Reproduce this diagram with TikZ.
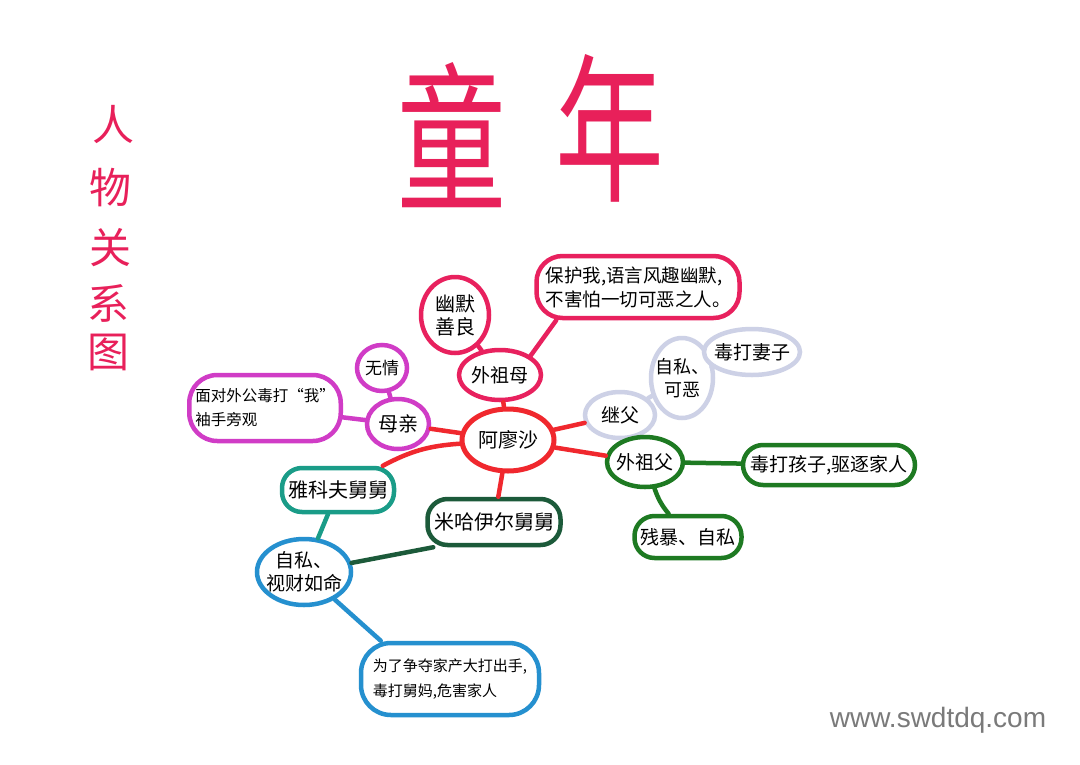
\documentclass[tikz,border=0pt]{standalone}
\usepackage{fontspec}
\newfontfamily\cjk{Noto Sans CJK SC}
\newfontfamily\web{Liberation Sans}
\usetikzlibrary{shapes.geometric}
\definecolor{cred}{HTML}{F0282E}
\definecolor{cpink}{HTML}{E8215E}
\definecolor{cmag}{HTML}{D03CC6}
\definecolor{cgray}{HTML}{CDD1E6}
\definecolor{cgreen}{HTML}{1E7A22}
\definecolor{cteal}{HTML}{1A9C88}
\definecolor{cdkgreen}{HTML}{1C5A3A}
\definecolor{cblue}{HTML}{2590CF}
\definecolor{ctitle}{HTML}{E8205A}
\definecolor{cweb}{HTML}{7A7A7A}
\tikzset{
  bub/.style={draw, line width=4.5pt, fill=white, align=center, inner sep=0pt,
    font=\cjk\fontsize{20}{23}\selectfont},
  ell/.style={bub, ellipse, inner sep=-8pt},
  box/.style={bub, rectangle, rounded corners=20pt, inner xsep=6pt},
  link/.style={line width=4.5pt, line cap=round},
  titlech/.style={text=ctitle, inner sep=0pt, font=\cjk\fontsize{160}{160}\selectfont},
  sidech/.style={text=ctitle, inner sep=0pt, font=\cjk\fontsize{42}{42}\selectfont},
}
\begin{document}
\begin{tikzpicture}[x=1pt,y=-1pt]
\useasboundingbox[fill=white] (0,0) rectangle (1080,764);

% titles
\node[titlech] (t1) at (452,135) {\scalebox{0.68}[1]{童}};
\node[titlech] (t2) at (610,128) {\scalebox{0.68}[1]{年}};
\node[sidech] (s1) at (113,125) {人};
\node[sidech] (s2) at (110,188) {物};
\node[sidech] (s3) at (110,248) {关};
\node[sidech] (s4) at (108,303) {系};
\node[sidech] (s5) at (108,352) {图};

% nodes
\node[ell, draw=cred, line width=5pt, minimum width=92, minimum height=62] (a) at (508,440) {阿廖沙};
\node[ell, draw=cpink, minimum width=82, minimum height=50, font=\cjk\fontsize{19}{22}\selectfont] (wzm) at (500,375) {外祖母};
\node[ell, draw=cpink, minimum width=68, minimum height=76] (ym) at (455,315) {幽默\\善良};
\node[box, draw=cpink, minimum width=203, minimum height=62, rounded corners=26pt, align=left, font=\cjk\fontsize{18.5}{24}\selectfont] (bh) at (638,287) {保护我,语言风趣幽默,\\不害怕一切可恶之人。};
\node[ell, draw=cmag, minimum width=62, minimum height=50] (mq) at (398,424) {母亲};
\node[ell, draw=cmag, minimum width=50, minimum height=46, font=\cjk\fontsize{17}{20}\selectfont] (wq) at (382,368) {无情};
\node[box, draw=cmag, minimum width=150, minimum height=66, rounded corners=28pt, align=left, font=\cjk\fontsize{15.5}{24}\selectfont] (md) at (265,408) {面对外公毒打“我”\\袖手旁观};
\node[ell, draw=cgray, minimum width=70, minimum height=46, font=\cjk\fontsize{19}{22}\selectfont] (jf) at (620,415) {继父};
\node[ell, draw=cgray, minimum width=62, minimum height=80, font=\cjk\fontsize{18}{23}\selectfont] (zk) at (682,378) {自私、\\可恶};
\node[ell, draw=cgray, minimum width=96, minimum height=46, font=\cjk\fontsize{19}{22}\selectfont] (dq) at (752,352) {毒打妻子};
\node[ell, draw=cgreen, minimum width=76, minimum height=50, font=\cjk\fontsize{19}{22}\selectfont] (wzf) at (645,462) {外祖父};
\node[box, draw=cgreen, minimum width=172, minimum height=40, font=\cjk\fontsize{19}{22}\selectfont] (dh) at (829,465) {毒打孩子,驱逐家人};
\node[box, draw=cgreen, minimum width=102, minimum height=42, font=\cjk\fontsize{19}{22}\selectfont] (cb) at (688,537) {残暴、自私};
\node[box, draw=cteal, minimum width=112, minimum height=44] (yk) at (338,490) {雅科夫舅舅};
\node[box, draw=cdkgreen, minimum width=133, minimum height=46] (mh) at (494,522) {米哈伊尔舅舅};
\node[ell, draw=cblue, minimum width=94, minimum height=66, font=\cjk\fontsize{19}{23}\selectfont] (zs) at (304,572) {自私、\\视财如命};
\node[box, draw=cblue, minimum width=178, minimum height=72, rounded corners=30pt, align=left, font=\cjk\fontsize{15}{25}\selectfont] (wl) at (450,679) {为了争夺家产大打出手,\\毒打舅妈,危害家人};

% connectors
\draw[link, cred] (a) -- (wzm);
\draw[link, cred] (a) -- (mq);
\draw[link, cred] (a) -- (jf);
\draw[link, cred] (a) -- (wzf);
\draw[link, cred] (a) to[bend right=12] (yk);
\draw[link, cred] (a) -- (mh);
\draw[link, cpink] (wzm) -- (ym);
\draw[link, cpink] (wzm.north east) -- ([xshift=22pt]bh.south west);
\draw[link, cmag] (mq) -- (wq);
\draw[link, cmag] (mq) -- (md);
\draw[link, cgray] (jf) -- (zk);
\draw[link, cgray] (zk) -- (dq);
\draw[link, cgreen] (wzf) -- (dh);
\draw[link, cgreen] (wzf) to[bend right=10] (cb);
\draw[link, cteal] (yk) -- (zs);
\draw[link, cdkgreen] ([xshift=8pt]mh.south west) -- (zs);
\draw[link, cblue] (zs) -- ([xshift=22pt]wl.north west);

\node[text=cweb, inner sep=0pt, font=\web\fontsize{28}{28}\selectfont] (web) at (938,720) {www.swdtdq.com};
\end{tikzpicture}
\end{document}
